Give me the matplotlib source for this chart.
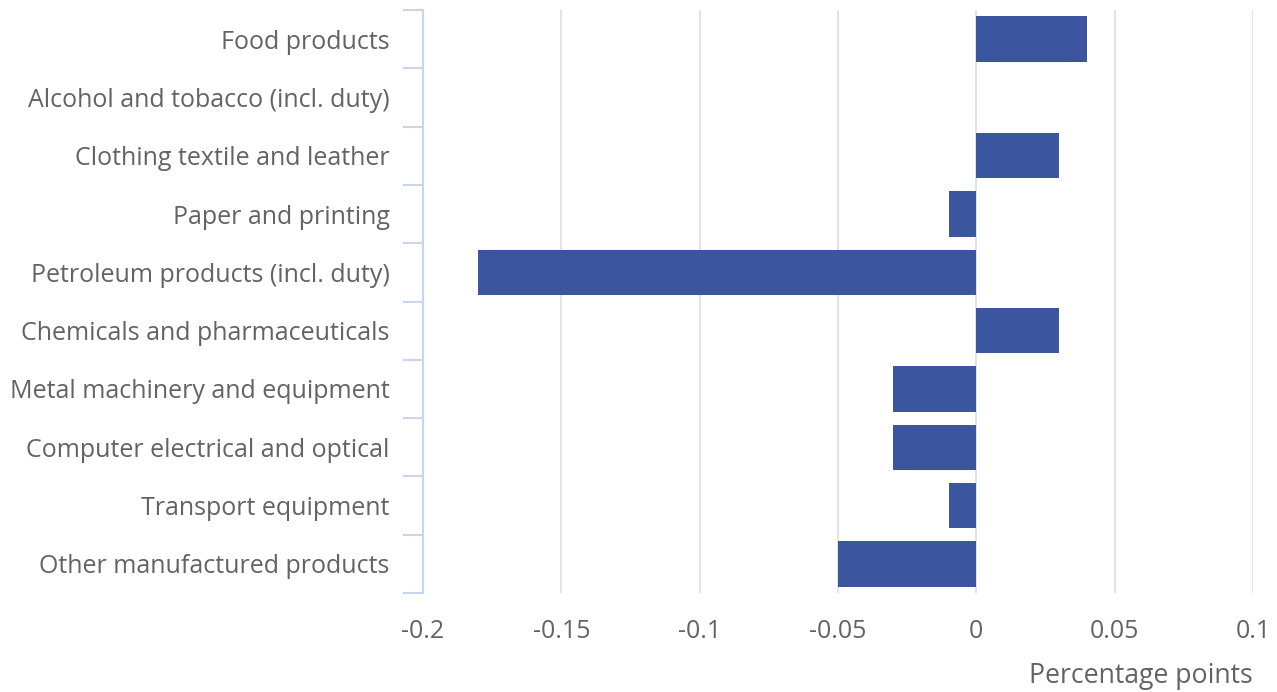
import matplotlib.pyplot as plt
import numpy as np

categories = [
    "Food products",
    "Alcohol and tobacco (incl. duty)",
    "Clothing textile and leather",
    "Paper and printing",
    "Petroleum products (incl. duty)",
    "Chemicals and pharmaceuticals",
    "Metal machinery and equipment",
    "Computer electrical and optical",
    "Transport equipment",
    "Other manufactured products",
]
values = [0.04, 0.0, 0.03, -0.01, -0.18, 0.03, -0.03, -0.03, -0.01, -0.05]
xticks = [-0.2, -0.15, -0.1, -0.05, 0, 0.05, 0.1]
xticklabels = ["-0.2", "-0.15", "-0.1", "-0.05", "0", "0.05", "0.1"]

plt.rcParams['font.family'] = ['Open Sans', 'DejaVu Sans']
text_col = '#636363'
fs = 18

fig = plt.figure(figsize=(12.77, 6.92), dpi=100)
ax = fig.add_axes([423 / 1277, 99 / 692, 830 / 1277, 583 / 692])

y = np.arange(len(categories))
ax.barh(y, values, height=0.78, color='#3b569e', linewidth=0, zorder=3)

ax.set_ylim(len(categories) - 0.5, -0.5)
ax.set_xlim(-0.2, 0.1)

ax.set_yticks(y)
ax.set_yticklabels(categories, fontsize=fs, color=text_col)
ax.set_yticks(np.arange(len(categories) + 1) - 0.5, minor=True)
ax.tick_params(axis='y', which='major', length=0, pad=24)
ax.tick_params(axis='y', which='minor', length=14.5, width=1.5, color='#c9d5ee')

ax.set_xticks(xticks)
ax.set_xticklabels(xticklabels, fontsize=fs, color=text_col)
ax.tick_params(axis='x', length=0, pad=19)

ax.grid(axis='x', color='#e3e3e3', linewidth=1.5, zorder=0)
for s in ['top', 'right', 'bottom']:
    ax.spines[s].set_visible(False)
ax.spines['left'].set_color('#c9d5ee')
ax.spines['left'].set_linewidth(1.5)

# axis title sits under the right end of the x axis
fig.text(1253 / 1277, 1 - 676 / 692, "Percentage points", ha='right', va='center',
         fontsize=19.2, color=text_col)

fig.savefig("out.png", dpi=100)
